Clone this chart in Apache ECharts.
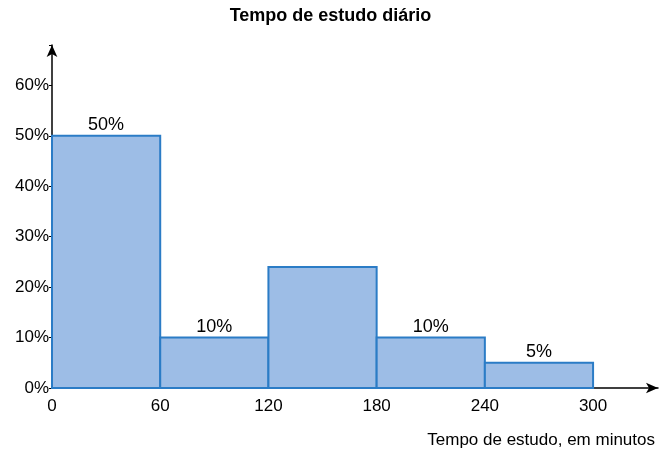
<!DOCTYPE html>
<html><head><meta charset="utf-8">
<script src="https://cdn.jsdelivr.net/npm/echarts@6/dist/echarts.min.js"></script>
</head><body style="margin:0">
<div id="c" style="width:661px;height:460px"></div>
<script>
const binStarts = [0, 60, 120, 180, 240];
const binEnds = [60, 120, 180, 240, 300];
const percents = [50, 10, 24, 10, 5];
const barLabels = ['50%', '10%', '', '10%', '5%'];
const xTicks = [0, 60, 120, 180, 240, 300];
const yTicks = [0, 10, 20, 30, 40, 50, 60];

const data = binStarts.map((s, i) => [s, binEnds[i], percents[i], barLabels[i]]);
const chart = echarts.init(document.getElementById('c'));
chart.setOption({
  animation: false,
  title: {text: 'Tempo de estudo diário', left: 'center', top: 2,
    textStyle: {fontFamily: 'Liberation Sans', fontSize: 18, fontWeight: 'bold', color: '#000'}},
  grid: {left: 52, top: 45, width: 620, height: 343},
  xAxis: {type: 'value', min: 0, max: 336, interval: 60,
    axisLine: {lineStyle: {color: '#000', width: 1.5}, symbol: ['none', 'arrow'], symbolSize: [8, 12]},
    axisTick: {show: false}, splitLine: {show: false},
    axisLabel: {color: '#000', fontSize: 17, fontFamily: 'Liberation Sans', margin: 10,
      formatter: v => xTicks.includes(v) ? String(v) : ''}},
  yAxis: {type: 'value', min: 0, max: 68, interval: 10,
    axisLine: {show: true, lineStyle: {color: '#000', width: 1.5}, symbol: ['none', 'arrow'], symbolSize: [8, 12]},
    axisTick: {show: true, length: 3, lineStyle: {color: '#000'}}, splitLine: {show: false},
    axisLabel: {color: '#000', fontSize: 17, fontFamily: 'Liberation Sans', margin: 3,
      formatter: v => yTicks.includes(v) ? v + '%' : ''}},
  graphic: [{type: 'text', right: 6, top: 432,
    style: {text: 'Tempo de estudo, em minutos', fontSize: 17, fontFamily: 'Liberation Sans', fill: '#000'}}],
  series: [{type: 'custom', data: data,
    renderItem: (params, api) => {
      const p0 = api.coord([api.value(0), api.value(2)]);
      const p1 = api.coord([api.value(1), 0]);
      const lab = data[params.dataIndex][3];
      return {type: 'group', children: [
        {type: 'rect', shape: {x: p0[0], y: p0[1], width: p1[0] - p0[0], height: p1[1] - p0[1]},
          style: {fill: '#9dbde6', stroke: '#2b7cc6', lineWidth: 2}},
        {type: 'text', x: (p0[0] + p1[0]) / 2, y: p0[1] - 2,
          style: {text: lab, fontSize: 18, fontFamily: 'Liberation Sans', fill: '#000', align: 'center', verticalAlign: 'bottom'}}
      ]};
    }}]
});
</script></body></html>
